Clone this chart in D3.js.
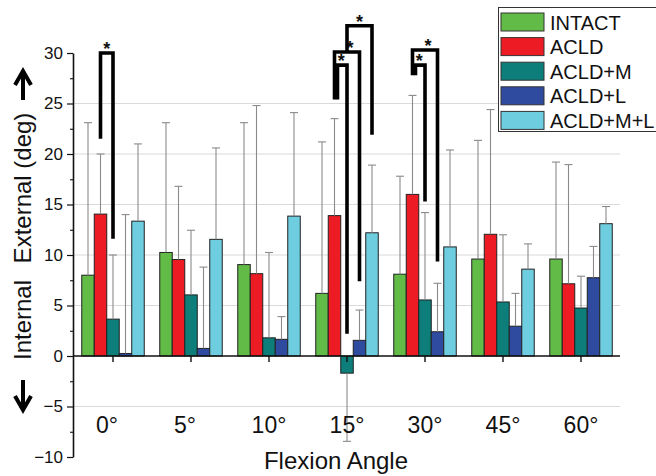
<!DOCTYPE html>
<html>
<head>
<meta charset="utf-8">
<script src="https://cdn.jsdelivr.net/npm/d3@7"></script>
<style>
  body { margin: 0; background: #fff; }
  text { font-family: Arial, "Liberation Sans", sans-serif; fill: #111; }
</style>
</head>
<body>
<svg id="chart" width="656" height="476"></svg>
<script>
// flexion angles and groups
var angles = ["0°", "5°", "10°", "15°", "30°", "45°", "60°"];
var series = ["INTACT", "ACLD", "ACLD+M", "ACLD+L", "ACLD+M+L"];
var colors = ["#62bb46", "#ed1c24", "#0d7e7a", "#2f4b9f", "#6fcde0"];

// means (deg), one per angle
var intactMean = [8.0, 10.25, 9.05, 6.2, 8.1, 9.6, 9.6];
var acldMean   = [14.05, 9.55, 8.15, 13.9, 16.0, 12.05, 7.15];
var acldMMean  = [3.65, 6.05, 1.8, -1.7, 5.55, 5.35, 4.75];
var acldLMean  = [0.25, 0.75, 1.65, 1.55, 2.4, 2.95, 7.75];
var acldMLMean = [13.35, 11.55, 13.85, 12.2, 10.8, 8.6, 13.1];

// standard deviations (one-sided bars)
var intactSD = [15.1, 12.85, 14.05, 15.0, 9.7, 11.75, 9.6];
var acldSD   = [5.95, 7.25, 16.65, 9.6, 9.8, 12.35, 11.8];
var acldMSD  = [6.35, 6.4, 8.45, 6.75, 8.65, 6.65, 3.15];
var acldLSD  = [13.75, 8.05, 2.25, 3.0, 4.8, 3.25, 3.1];
var acldMLSD = [7.65, 9.05, 10.25, 6.7, 9.6, 2.5, 1.7];

// significance brackets: angle, from, to, top, left leg end, right leg end
var brackets = [
  ["0°",  "ACLD",   "ACLD+M",   30.0, 21.5, 11.6],
  ["15°", "ACLD",   "ACLD+M",   28.8, 25.4, 2.2],
  ["15°", "ACLD",   "ACLD+L",   30.1, 25.4, 7.4],
  ["15°", "ACLD+M", "ACLD+M+L", 32.7, 30.1, 21.9],
  ["30°", "ACLD",   "ACLD+M",   28.8, 27.8, 15.3],
  ["30°", "ACLD",   "ACLD+L",   30.3, 27.8, 9.35]
];

var yTicks = [-10, -5, 0, 5, 10, 15, 20, 25, 30];
var gridTicks = [-5, 5, 10, 15, 20, 25];

var means = [intactMean, acldMean, acldMMean, acldLMean, acldMLMean];
var sds = [intactSD, acldSD, acldMSD, acldLSD, acldMLSD];

var rows = [];
angles.forEach(function (a, i) {
  series.forEach(function (s, j) {
    rows.push({angle: a, key: s, value: means[j][i], sd: sds[j][i], color: colors[j]});
  });
});

var svg = d3.select("#chart");

var y = d3.scaleLinear().domain([-10, 30]).range([457, 53]);
var x0 = d3.scaleBand().domain(angles).range([74, 620]);
var x1 = d3.scaleBand().domain(series).range([0, x0.bandwidth()]).paddingOuter(0.62);
var xc = function (a, s) { return x0(a) + x1(s) + x1.bandwidth() / 2; };

// gridlines
svg.append("g")
  .selectAll("line")
  .data(gridTicks)
  .join("line")
    .attr("x1", 73).attr("x2", 620)
    .attr("y1", d => y(d)).attr("y2", d => y(d))
    .attr("stroke", "#dadada").attr("stroke-width", 1.2);

// bars
svg.append("g")
  .selectAll("rect")
  .data(rows)
  .join("rect")
    .attr("x", d => x0(d.angle) + x1(d.key))
    .attr("y", d => y(Math.max(0, d.value)))
    .attr("width", x1.bandwidth())
    .attr("height", d => Math.abs(y(d.value) - y(0)))
    .attr("fill", d => d.color)
    .attr("stroke", "#222")
    .attr("stroke-width", 1);

// error bars (away from zero only)
var eb = svg.append("g").attr("stroke", "#8a8a8a").attr("stroke-width", 1.1);
rows.forEach(function (d) {
  var cx = xc(d.angle, d.key);
  var end = d.value >= 0 ? d.value + d.sd : d.value - d.sd;
  eb.append("line").attr("x1", cx).attr("x2", cx).attr("y1", y(d.value)).attr("y2", y(end));
  eb.append("line").attr("x1", cx - 4).attr("x2", cx + 4).attr("y1", y(end)).attr("y2", y(end));
});

// y axis with minor ticks
var yAxis = svg.append("g")
  .attr("transform", "translate(73,0)")
  .call(d3.axisLeft(y).tickValues(yTicks).tickSize(6).tickPadding(4).tickSizeOuter(0));
yAxis.select(".domain").attr("stroke", "#111").attr("stroke-width", 1.6);
yAxis.selectAll(".tick line").attr("stroke", "#111").attr("stroke-width", 1.2);
yAxis.selectAll("text").attr("font-size", 17).attr("fill", "#111");

svg.append("g")
  .attr("transform", "translate(73,0)")
  .call(d3.axisLeft(y).tickValues(yTicks.slice(1).map(v => v - 2.5)).tickSize(3).tickFormat("").tickSizeOuter(0))
  .call(g => g.select(".domain").remove())
  .selectAll(".tick line").attr("stroke", "#111").attr("stroke-width", 1.1);

// x axis at zero
var xAxis = svg.append("g")
  .attr("transform", "translate(0," + y(0) + ")")
  .call(d3.axisBottom(x0).tickSize(6).tickPadding(55).tickSizeOuter(0));
xAxis.select(".domain").attr("d", "M73,0H620").attr("stroke", "#111").attr("stroke-width", 1.6);
xAxis.selectAll(".tick line").attr("stroke", "#111").attr("stroke-width", 1.4);
xAxis.selectAll("text").attr("font-size", 23).attr("fill", "#111")
  .attr("dx", d => d.length < 3 ? -6 : 0);

// significance brackets
var bg = svg.append("g");
brackets.forEach(function (b) {
  var nested = brackets.some(o => o !== b && o[0] === b[0] && o[1] === b[1] && o[3] > b[3]);
  var outer = brackets.some(o => o !== b && o[0] === b[0] && o[1] === b[1] && o[3] < b[3]);
  var xl = xc(b[0], b[1]) + (nested ? 3 : 0);
  var xr = xc(b[0], b[2]);
  bg.append("path")
    .attr("d", "M" + xl + "," + y(b[4]) + "V" + y(b[3]) + "H" + xr + "V" + y(b[5]))
    .attr("fill", "none").attr("stroke", "#000").attr("stroke-width", 3.6)
    .attr("stroke-linejoin", "miter");
  bg.append("text")
    .attr("x", (xl + xr) / 2 + (outer ? 3 : nested ? -1 : 0)).attr("y", y(b[3]) + 2)
    .attr("text-anchor", "middle")
    .attr("font-size", 18).attr("font-weight", "bold")
    .text("*");
});

// axis titles
svg.append("text")
  .attr("x", 336).attr("y", 469)
  .attr("text-anchor", "middle").attr("font-size", 24)
  .text("Flexion Angle");

svg.append("text")
  .attr("transform", "translate(31,320) rotate(-90)")
  .attr("text-anchor", "middle").attr("font-size", 24)
  .text("Internal");
svg.append("text")
  .attr("transform", "translate(31,188) rotate(-90)")
  .attr("text-anchor", "middle").attr("font-size", 24)
  .text("External (deg)");

// direction arrows
var ar = svg.append("g").attr("fill", "none").attr("stroke", "#000")
  .attr("stroke-width", 4).attr("stroke-linejoin", "miter");
ar.append("path").attr("d", "M23,100V73M15,85L23,71L31,85");
ar.append("path").attr("d", "M23,380V408M15,396L23,410L31,396");

// legend
var lg = svg.append("g");
lg.append("rect")
  .attr("x", 498.5).attr("y", 7.5).attr("width", 170).attr("height", 124)
  .attr("fill", "#fff").attr("stroke", "#333").attr("stroke-width", 1);
var li = lg.selectAll("g.item")
  .data(series)
  .join("g")
    .attr("class", "item")
    .attr("transform", (d, i) => "translate(501," + (13 + i * 24.6) + ")");
li.append("rect")
  .attr("width", 43).attr("height", 18)
  .attr("fill", (d, i) => colors[i])
  .attr("stroke", "#333").attr("stroke-width", 1);
li.append("text")
  .attr("x", 49).attr("y", 16.5)
  .attr("font-size", 20)
  .text(d => d);
</script>
</body>
</html>
